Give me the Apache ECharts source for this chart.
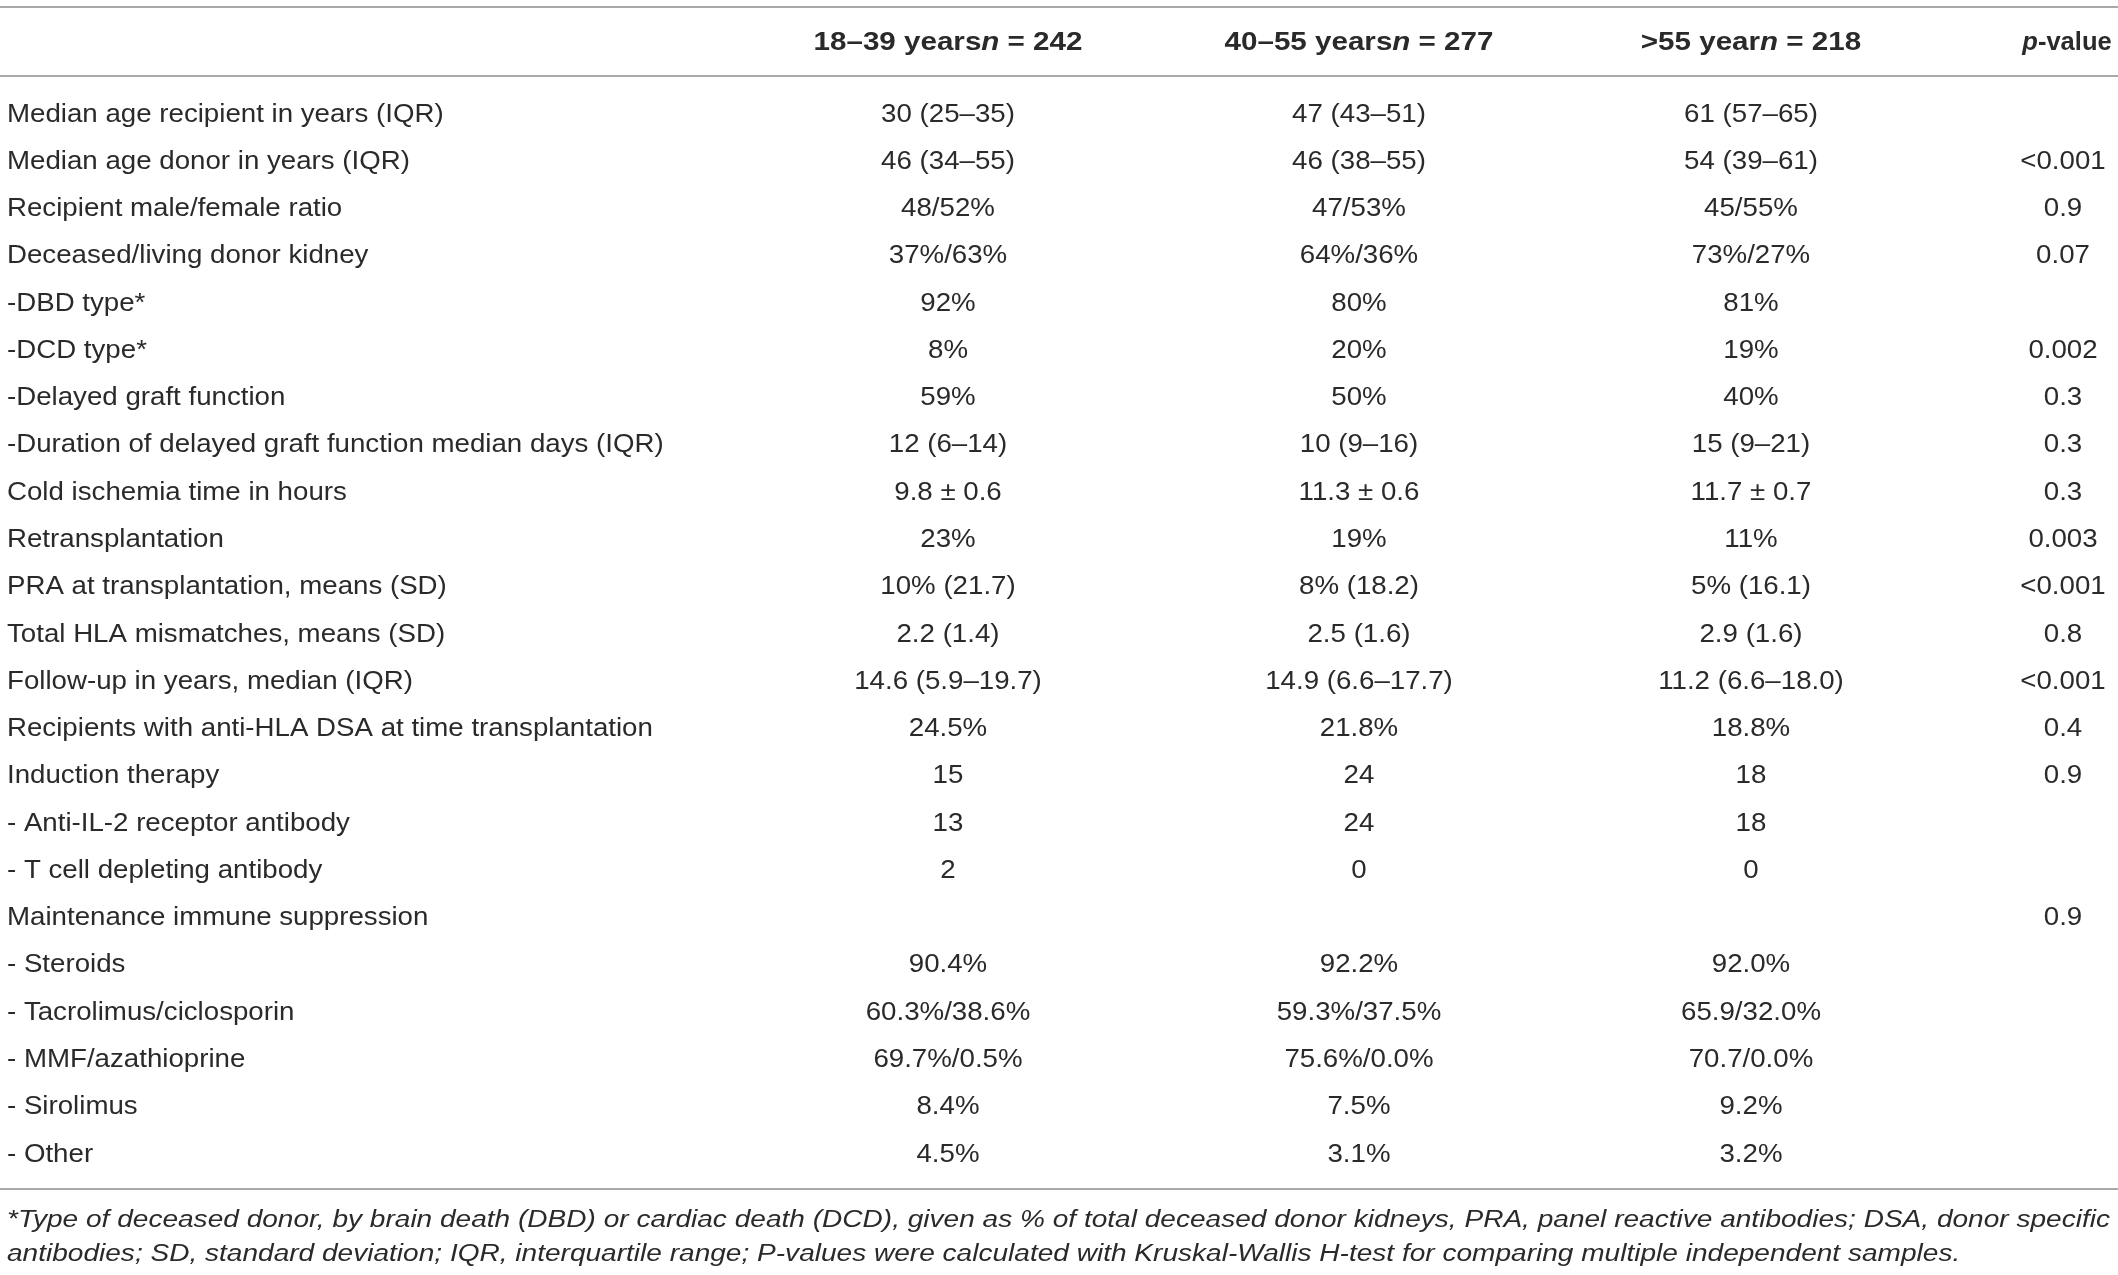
<!DOCTYPE html>
<html>
  <head>
    <meta charset="utf-8" />
    <title>Recipient characteristics by age group</title>
    <script src="https://cdn.jsdelivr.net/npm/echarts@6/dist/echarts.min.js"></script>
    <style>
      html, body { margin: 0; padding: 0; background: #fff; }
    </style>
  </head>
  <body>
    <div id="main" style="width: 2118px;height:1275px;"></div>
    <script type="text/javascript">
      // 表格内容
      var rowLabels = [
        'Median age recipient in years (IQR)',
        'Median age donor in years (IQR)',
        'Recipient male/female ratio',
        'Deceased/living donor kidney',
        '-DBD type*',
        '-DCD type*',
        '-Delayed graft function',
        '-Duration of delayed graft function median days (IQR)',
        'Cold ischemia time in hours',
        'Retransplantation',
        'PRA at transplantation, means (SD)',
        'Total HLA mismatches, means (SD)',
        'Follow-up in years, median (IQR)',
        'Recipients with anti-HLA DSA at time transplantation',
        'Induction therapy',
        '- Anti-IL-2 receptor antibody',
        '- T cell depleting antibody',
        'Maintenance immune suppression',
        '- Steroids',
        '- Tacrolimus/ciclosporin',
        '- MMF/azathioprine',
        '- Sirolimus',
        '- Other'
      ];
      var groupNames = ['18–39 years', '40–55 years', '>55 year'];
      var groupN = [242, 277, 218];
      var pHeader = ['p', '-value'];
      var group1 = ['30 (25–35)', '46 (34–55)', '48/52%', '37%/63%', '92%', '8%', '59%', '12 (6–14)',
        '9.8 ± 0.6', '23%', '10% (21.7)', '2.2 (1.4)', '14.6 (5.9–19.7)', '24.5%', '15', '13', '2', '',
        '90.4%', '60.3%/38.6%', '69.7%/0.5%', '8.4%', '4.5%'];
      var group2 = ['47 (43–51)', '46 (38–55)', '47/53%', '64%/36%', '80%', '20%', '50%', '10 (9–16)',
        '11.3 ± 0.6', '19%', '8% (18.2)', '2.5 (1.6)', '14.9 (6.6–17.7)', '21.8%', '24', '24', '0', '',
        '92.2%', '59.3%/37.5%', '75.6%/0.0%', '7.5%', '3.1%'];
      var group3 = ['61 (57–65)', '54 (39–61)', '45/55%', '73%/27%', '81%', '19%', '40%', '15 (9–21)',
        '11.7 ± 0.7', '11%', '5% (16.1)', '2.9 (1.6)', '11.2 (6.6–18.0)', '18.8%', '18', '18', '0', '',
        '92.0%', '65.9/32.0%', '70.7/0.0%', '9.2%', '3.2%'];
      var pValues = ['', '<0.001', '0.9', '0.07', '', '0.002', '0.3', '0.3', '0.3', '0.003', '<0.001',
        '0.8', '<0.001', '0.4', '0.9', '', '', '0.9', '', '', '', '', ''];
      var footnoteLines = [
        '*Type of deceased donor, by brain death (DBD) or cardiac death (DCD), given as % of total deceased donor kidneys, PRA, panel reactive antibodies; DSA, donor specific',
        'antibodies; SD, standard deviation; IQR, interquartile range; P-values were calculated with Kruskal-Wallis H-test for comparing multiple independent samples.'
      ];

      // 版面：列位置（x 轴单位）、行位置（y 轴单位）
      var colX = [7, 948, 1359, 1751, 2063];
      var headerX = [948, 1359, 1751];
      var pHeaderX = 2067;
      var headerRow = -1.52;
      var headerRuleRow = -0.81;
      var footRows = [23.40, 24.10];
      var yMin = -2.274, yMax = 22.73;

      var fontFamily = '"Liberation Sans", Arial, Helvetica, sans-serif';
      var textColor = '#2a2a2a';
      var ruleColor = '#a9a9a9';

      var myChart = echarts.init(document.getElementById('main'));

      // 用 custom 系列画文字，横向略拉宽以贴近原图字形
      function textSeries(texts, xs, ys, opts) {
        var data = texts.map(function (t, i) { return [xs(i), ys(i)]; });
        return {
          type: 'custom',
          silent: true,
          clip: false,
          data: data,
          markLine: opts.markLine,
          renderItem: function (params, api) {
            var t = texts[params.dataIndex];
            if (!t) return null;
            var pt = api.coord([api.value(0), api.value(1)]);
            var style = {
              text: t,
              x: 0,
              y: 0,
              align: opts.align || 'center',
              verticalAlign: 'middle',
              fill: textColor,
              fontFamily: fontFamily,
              fontSize: opts.fontSize,
              fontStyle: opts.fontStyle || 'normal',
              fontWeight: opts.fontWeight || 'normal'
            };
            if (opts.rich) style.rich = opts.rich;
            return { type: 'text', x: pt[0], y: pt[1], scaleX: opts.scaleX || 1, style: style };
          }
        };
      }

      var bodyOpts = { fontSize: 25.5, scaleX: 1.085 };
      var headSize = 25.5;
      var headRich = {
        b: { fontFamily: fontFamily, fontSize: headSize, fontWeight: 'bold', fill: textColor },
        bi: { fontFamily: fontFamily, fontSize: headSize, fontWeight: 'bold', fontStyle: 'italic', fill: textColor }
      };
      var headerTexts = groupNames.map(function (g, i) {
        return '{b|' + g + '}{bi|n}{b| = ' + groupN[i] + '}';
      });
      var pHeaderText = ['{bi|' + pHeader[0] + '}{b|' + pHeader[1] + '}'];

      var series = [
        textSeries(rowLabels, function () { return colX[0]; }, function (i) { return i; },
          { fontSize: bodyOpts.fontSize, scaleX: bodyOpts.scaleX, align: 'left' }),
        textSeries(group1, function () { return colX[1]; }, function (i) { return i; }, bodyOpts),
        textSeries(group2, function () { return colX[2]; }, function (i) { return i; }, bodyOpts),
        textSeries(group3, function () { return colX[3]; }, function (i) { return i; }, bodyOpts),
        textSeries(pValues, function () { return colX[4]; }, function (i) { return i; }, bodyOpts),
        textSeries(headerTexts, function (i) { return headerX[i]; }, function () { return headerRow; },
          {
            fontSize: headSize, scaleX: 1.16, rich: headRich,
            markLine: {
              silent: true,
              symbol: 'none',
              label: { show: false },
              lineStyle: { color: ruleColor, width: 2, type: 'solid' },
              data: [{ yAxis: yMin }, { yAxis: headerRuleRow }, { yAxis: yMax }]
            }
          }),
        textSeries(pHeaderText, function () { return pHeaderX; }, function () { return headerRow; },
          { fontSize: headSize, scaleX: 1.0, rich: headRich }),
        textSeries(footnoteLines, function () { return colX[0]; }, function (i) { return footRows[i]; },
          { fontSize: 24.5, scaleX: 1.145, align: 'left', fontStyle: 'italic' })
      ];

      var option = {
        animation: false,
        backgroundColor: '#fff',
        grid: { left: 0, right: 0, top: 7, bottom: 86 },
        xAxis: { type: 'value', min: 0, max: 2118, show: false },
        yAxis: { type: 'value', inverse: true, min: yMin, max: yMax, show: false },
        series: series
      };
      myChart.setOption(option);
    </script>
  </body>
</html>
